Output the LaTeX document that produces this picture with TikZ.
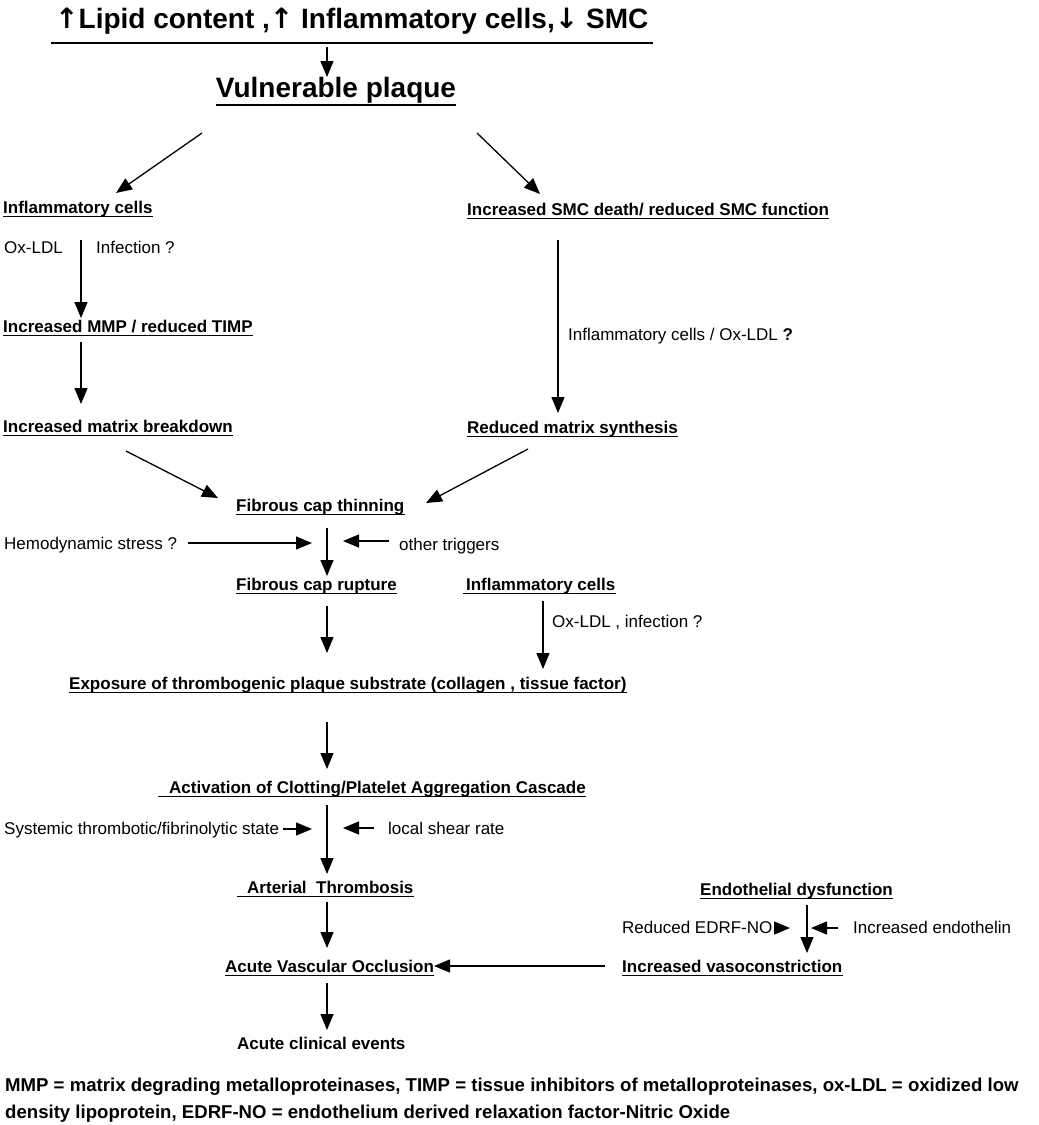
\documentclass[tikz,border=0pt]{standalone}
\usepackage{fontspec}
\setmainfont{Liberation Sans}
\newfontfamily\symfont{DejaVu Sans}
\usetikzlibrary{arrows.meta}
\begin{document}
\begin{tikzpicture}[x=1pt,y=-1pt,
  txt/.style={inner xsep=0pt, inner ysep=1pt, text height=12.5pt, text depth=2pt, anchor=west, font=\fontsize{17}{20}\selectfont},
  btxt/.style={txt, font=\fontsize{17}{20}\selectfont\bfseries},
  ul/.style={btxt, append after command={(\tikzlastnode.south west) edge[line width=1.1pt] (\tikzlastnode.south east)}},
  big/.style={inner sep=0pt, font=\fontsize{28}{32}\selectfont\bfseries},
  uline/.style={line width=1.3pt},
  arr/.style={line width=1.3pt, -{Triangle[length=16pt,width=13pt]}},
  foot/.style={inner sep=0pt, anchor=base west, font=\fontsize{18.6}{22}\selectfont\bfseries}]
\useasboundingbox (0,0) rectangle (1039,1125);

% ---- top
\node[big, anchor=base west] (title) at (55,28) {{\symfont\bfseries ↑}Lipid content ,{\symfont\bfseries ↑} Inflammatory cells,{\symfont\bfseries ↓} SMC};
\draw[uline] ([shift={(-4,15)}]title.base west) -- ([shift={(4,15)}]title.base east);
\node[big, anchor=base] (vuln) at (336,97) {Vulnerable plaque};
\draw[uline] ([shift={(0,8)}]vuln.base west) -- ([shift={(0,8)}]vuln.base east);

\coordinate (t1) at (327,47); \coordinate (t2) at (327,77);
\draw[arr] (t1) -- (t2);
\coordinate (vl1) at (202,133); \coordinate (vl2) at (116,193);
\coordinate (vr1) at (477,133); \coordinate (vr2) at (540,194);
\draw[arr] (vl1) -- (vl2);
\draw[arr] (vr1) -- (vr2);

% ---- left branch
\node[ul] (inf1) at (3,208) {Inflammatory cells};
\node[txt] (oxldl) at (4,248) {Ox-LDL};
\node[txt] (infq) at (96,248) {Infection ?};
\node[ul] (mmp) at (3,327) {Increased MMP / reduced TIMP};
\node[ul] (brk) at (3,427) {Increased matrix breakdown};
\coordinate (l1) at (81,240); \coordinate (l2) at (81,318);
\coordinate (l3) at (81,342); \coordinate (l4) at (81,404);
\draw[arr] (l1) -- (l2);
\draw[arr] (l3) -- (l4);

% ---- right branch
\node[ul] (smc) at (467,210) {Increased SMC death/ reduced SMC function};
\node[txt] (infsmc) at (568,335) {Inflammatory cells / Ox-LDL \textbf{?}};
\node[ul] (syn) at (467,428) {Reduced matrix synthesis};
\coordinate (r1) at (558,240); \coordinate (r2) at (558,413);
\draw[arr] (r1) -- (r2);

% ---- fibrous cap
\node[ul] (thin) at (236,506) {Fibrous cap thinning};
\coordinate (b1) at (126,451); \coordinate (b2) at (218,498);
\coordinate (s1) at (528,449); \coordinate (s2) at (426,503);
\draw[arr] (b1) -- (b2);
\draw[arr] (s1) -- (s2);
\node[txt] (hemo) at (4,544) {Hemodynamic stress ?};
\node[txt] (oth) at (399,545) {other triggers};
\coordinate (h1) at (188,543); \coordinate (h2) at (312,543);
\coordinate (o1) at (389,541); \coordinate (o2) at (343,541);
\draw[arr] (h1) -- (h2);
\draw[arr] (o1) -- (o2);
\coordinate (c1) at (327,528); \coordinate (c2) at (327,576);
\draw[arr] (c1) -- (c2);
\node[ul] (rup) at (236,585) {Fibrous cap rupture};
\node[ul] (inf2) at (463,585) {\,Inflammatory cells};
\node[txt] (oxinf) at (552,622) {Ox-LDL , infection ?};
\coordinate (c3) at (327,606); \coordinate (c4) at (327,653);
\draw[arr] (c3) -- (c4);
\coordinate (i1) at (543,601); \coordinate (i2) at (543,669);
\draw[arr] (i1) -- (i2);

% ---- thrombosis
\node[ul] (expo) at (69,684) {Exposure of thrombogenic plaque substrate (collagen , tissue factor)};
\coordinate (c5) at (327,722); \coordinate (c6) at (327,769);
\draw[arr] (c5) -- (c6);
\node[ul] (act) at (158,788) {\hspace{11pt}Activation of Clotting/Platelet Aggregation Cascade};
\node[txt] (sys) at (4,829) {Systemic thrombotic/fibrinolytic state};
\node[txt] (shear) at (388,829) {local shear rate};
\coordinate (y1) at (283,829); \coordinate (y2) at (312,829);
\coordinate (z1) at (374,828); \coordinate (z2) at (343,828);
\draw[arr] (y1) -- (y2);
\draw[arr] (z1) -- (z2);
\coordinate (c7) at (327,805); \coordinate (c8) at (327,874);
\draw[arr] (c7) -- (c8);
\node[ul] (art) at (237,888) {\hspace{10pt}Arterial\ \ Thrombosis};
\coordinate (c9) at (327,902); \coordinate (c10) at (327,948);
\draw[arr] (c9) -- (c10);
\node[ul] (occ) at (225,967) {Acute Vascular Occlusion};
\coordinate (c11) at (327,983); \coordinate (c12) at (327,1030);
\draw[arr] (c11) -- (c12);
\node[btxt] (clin) at (237,1044) {Acute clinical events};

% ---- endothelium
\node[ul] (endo) at (700,890) {Endothelial dysfunction};
\node[txt] (edrf) at (622,928) {Reduced EDRF-NO};
\node[txt] (etn) at (853,928) {Increased endothelin};
\node[ul] (vaso) at (622,967) {Increased vasoconstriction};
\coordinate (e1) at (807,905); \coordinate (e2) at (807,953);
\draw[arr] (e1) -- (e2);
\coordinate (n1) at (774,928); \coordinate (n2) at (790,928);
\draw[arr] (n1) -- (n2);
\coordinate (m1) at (838,928); \coordinate (m2) at (811,928);
\draw[arr] (m1) -- (m2);
\coordinate (v1) at (605,966); \coordinate (v2) at (434,966);
\draw[arr] (v1) -- (v2);

% ---- footnote
\node[foot] (f1) at (5,1091) {MMP = matrix degrading metalloproteinases, TIMP = tissue inhibitors of metalloproteinases, ox-LDL = oxidized low};
\node[foot] (f2) at (5,1118) {density lipoprotein, EDRF-NO = endothelium derived relaxation factor-Nitric Oxide};
\end{tikzpicture}
\end{document}
